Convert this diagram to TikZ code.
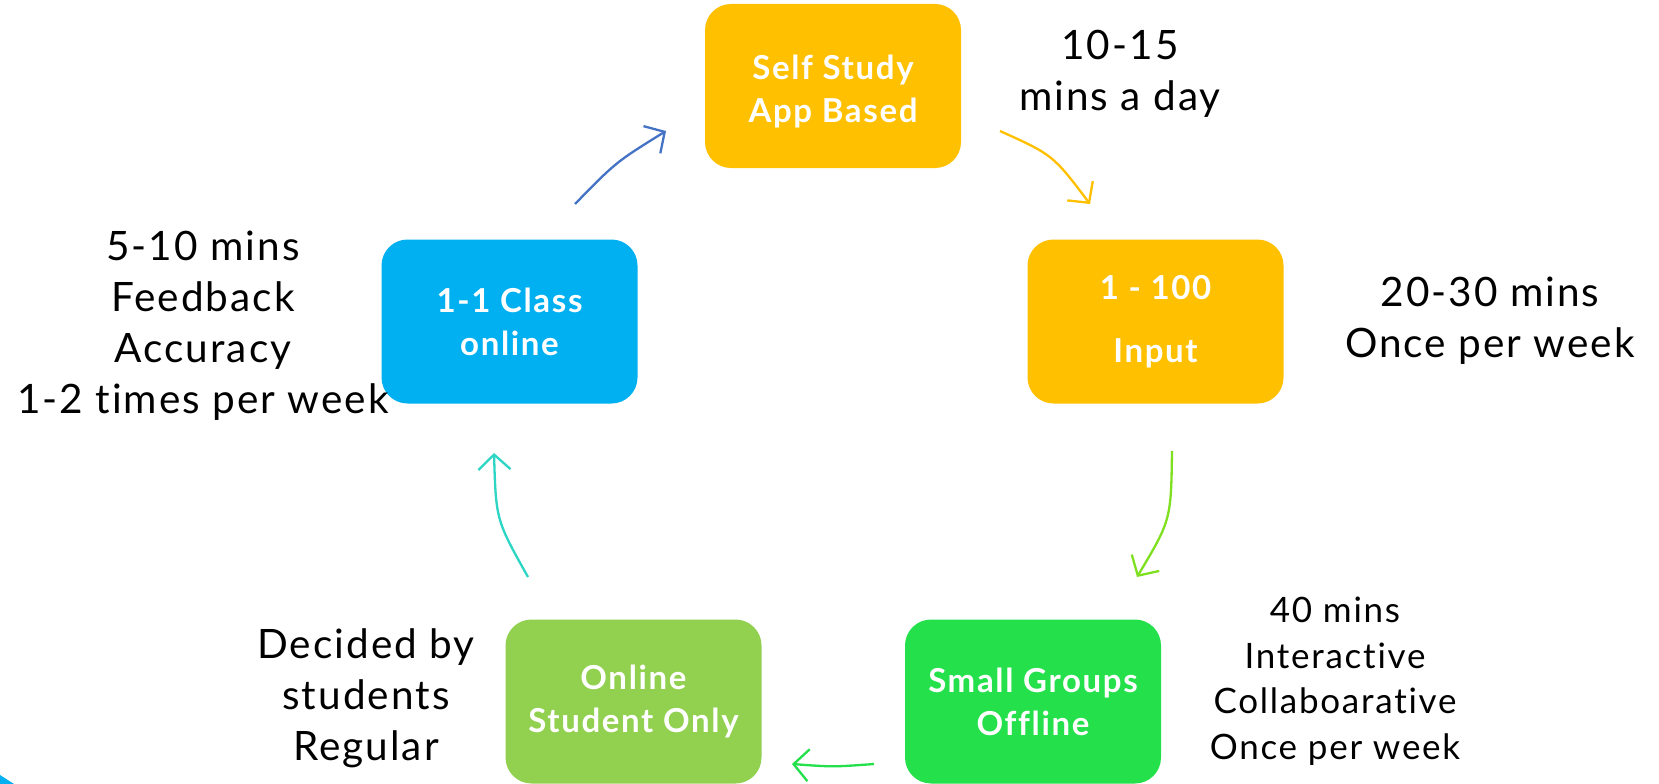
\documentclass[tikz,border=0pt]{standalone}
\usepackage{fontspec}
\setmainfont{Lato}[Ligatures=NoCommon, LetterSpace=5]
\usetikzlibrary{arrows.meta}
\definecolor{cAmber}{HTML}{FFC000}
\definecolor{cSky}{HTML}{00B0F0}
\definecolor{cGreen}{HTML}{23E04B}
\definecolor{cLime}{HTML}{92D050}
\definecolor{aBlue}{HTML}{4472C4}
\definecolor{aLime}{HTML}{7FE020}
\definecolor{aTeal}{HTML}{2DD5C4}
\tikzset{
  box/.style={rounded corners=26pt, minimum width=256pt, minimum height=164pt, inner sep=0pt,
    text=white, align=center, font=\bfseries\fontsize{33}{43}\selectfont},
  note/.style={align=center, text=black, font=\fontsize{40.5}{51}\selectfont},
  smallnote/.style={align=center, text=black, font=\fontsize{35}{45.5}\selectfont},
  flow/.style={line width=2.3pt, -{Straight Barb[length=15pt,width=32pt,line width=2.3pt]}}
}
\begin{document}
\begin{tikzpicture}[x=1pt,y=-1pt]
\useasboundingbox (0,0) rectangle (1659,784);
\fill[white] (0,0) rectangle (1659,784);
\fill[cSky] (0,775) -- (14,784) -- (0,784) -- cycle;

\node[box, fill=cAmber] (self) at (833,86) {\rule{0pt}{36pt}Self Study\\App Based};
\node[box, fill=cAmber, font=\bfseries\fontsize{33}{63}\selectfont] (input) at (1155.5,321.5) {1 - 100\\Input};
\node[box, fill=cSky] (class) at (509.5,321.5) {1-1 Class\\online};
\node[box, fill=cGreen] (groups) at (1033,701.5) {Small Groups\\Offline};
\node[box, fill=cLime] (online) at (633.5,701.5) {Online\\Student Only};

\node[note] (n1) at (1120,74) {10-15\\mins a day};
\node[note] (n2) at (1490,321) {20-30 mins\\Once per week};
\node[smallnote] (n3) at (1335,681) {40 mins\\Interactive\\Collaboarative\\Once per week};
\node[note] (n4) at (366,698) {Decided by\\students\\Regular};
\node[note] (n5) at (203,326) {5-10 mins\\Feedback\\Accuracy\\1-2 times per week};

\coordinate (b1) at (575,204); \coordinate (b2) at (666,131);
\coordinate (y1) at (1000,131); \coordinate (y2) at (1090,204);
\coordinate (l1) at (1172,451); \coordinate (l2) at (1137,577);
\coordinate (g1) at (874,764); \coordinate (g2) at (792,764);
\coordinate (t1) at (528,577); \coordinate (t2) at (494,453);

\draw[flow, aBlue] (b1) .. controls (616,162) .. (b2);
\draw[flow, cAmber] (y1) .. controls (1053,155) .. (y2);
\draw[flow, aLime] (l1) .. controls (1171,520) .. (l2);
\draw[flow, cGreen] (g1) .. controls (833,767) .. (g2);
\draw[flow, aTeal] (t1) .. controls (496,520) .. (t2);
\end{tikzpicture}
\end{document}
